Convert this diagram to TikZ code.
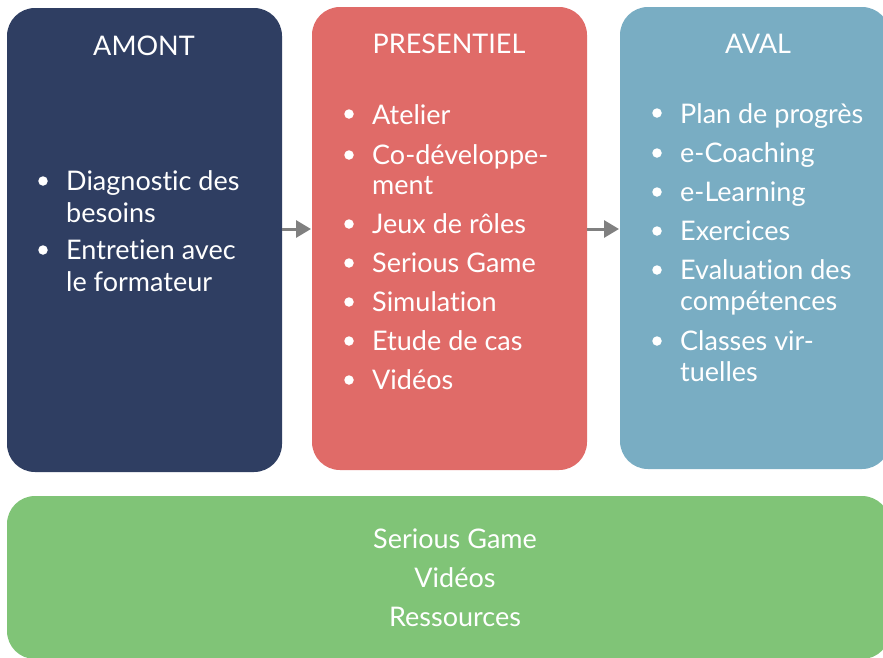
\documentclass[tikz,border=0pt]{standalone}
\usepackage{fontspec}
\setmainfont[Ligatures={NoCommon,NoRequired,NoContextual}]{Lato}
\usetikzlibrary{arrows.meta}
\definecolor{navy}{HTML}{2F3E62}
\definecolor{redbox}{HTML}{E06B68}
\definecolor{bluebox}{HTML}{79ADC3}
\definecolor{greenbox}{HTML}{80C477}
\definecolor{arrowgray}{HTML}{808080}
\tikzset{
  panel/.style={rounded corners=28pt, draw=none},
  txt/.style={anchor=base west, inner sep=0pt, text=white, font=\fontsize{27}{31}\selectfont},
  ctxt/.style={anchor=base, inner sep=0pt, text=white, font=\fontsize{27}{31}\selectfont},
  dot/.style={circle, fill=white, inner sep=0pt, minimum size=9.5pt},
  flow/.style={draw=arrowgray, line width=3pt, -{Triangle[length=15pt,width=17pt]}, shorten <=0pt, shorten >=1pt}
}
\begin{document}
\begin{tikzpicture}[x=1pt,y=-1pt]
\useasboundingbox (0,0) rectangle (883,657);
\fill[white] (0,0) rectangle (883,657);
% panels
\fill[navy, panel] (7,8) rectangle (282,472);
\fill[redbox, panel] (312,7) rectangle (587,470);
\fill[bluebox, panel] (620,7) rectangle (890,469);
\fill[greenbox, panel] (7,496) rectangle (890,659);
\coordinate (b1r) at (282,229);
\coordinate (b2l) at (312,229);
\coordinate (b2r) at (587,229);
\coordinate (b3l) at (620,229);
\draw[flow] (b1r) -- (b2l);
\draw[flow] (b2r) -- (b3l);
% titles
\node[ctxt] (t1) at (144,55) {AMONT};
\node[ctxt] (t2) at (449,53) {PRESENTIEL};
\node[ctxt] (t3) at (758,53) {AVAL};
% box 1
\node[dot] (d11) at (43,181) {};
\node[txt] (a11) at (66,190) {Diagnostic des};
\node[txt] (a12) at (66,222) {besoins};
\node[dot] (d12) at (43,250) {};
\node[txt] (a13) at (66,259) {Entretien avec};
\node[txt] (a14) at (66,291) {le formateur};
% box 2
\node[dot] (d21) at (349,114) {};
\node[txt] (b21) at (372,124) {Atelier};
\node[dot] (d22) at (349,155) {};
\node[txt] (b22) at (372,164) {Co-développe-};
\node[txt] (b23) at (372,194) {ment};
\node[dot] (d23) at (349,224) {};
\node[txt] (b24) at (372,233) {Jeux de rôles};
\node[dot] (d24) at (349,263) {};
\node[txt] (b25) at (372,272) {Serious Game};
\node[dot] (d25) at (349,302) {};
\node[txt] (b26) at (372,311) {Simulation};
\node[dot] (d26) at (349,341) {};
\node[txt] (b27) at (372,350) {Etude de cas};
\node[dot] (d27) at (349,380) {};
\node[txt] (b28) at (372,389) {Vidéos};
% box 3
\node[dot] (d31) at (657,113) {};
\node[txt] (c31) at (680,123) {Plan de progrès};
\node[dot] (d32) at (657,153) {};
\node[txt] (c32) at (680,162) {e-Coaching};
\node[dot] (d33) at (657,192) {};
\node[txt] (c33) at (680,201) {e-Learning};
\node[dot] (d34) at (657,231) {};
\node[txt] (c34) at (680,240) {Exercices};
\node[dot] (d35) at (657,270) {};
\node[txt] (c35) at (680,279) {Evaluation des};
\node[txt] (c36) at (680,310) {compétences};
\node[dot] (d36) at (657,341) {};
\node[txt] (c37) at (680,350) {Classes vir-};
\node[txt] (c38) at (680,381) {tuelles};
% green
\node[ctxt] (g1) at (455,548) {Serious Game};
\node[ctxt] (g2) at (455,587) {Vidéos};
\node[ctxt] (g3) at (455,626) {Ressources};
\end{tikzpicture}
\end{document}
